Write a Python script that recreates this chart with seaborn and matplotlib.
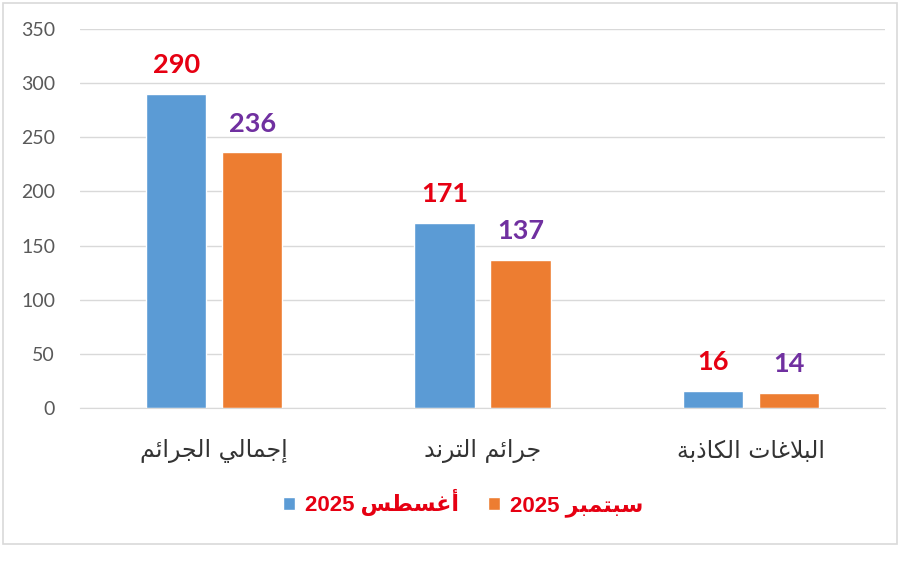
import matplotlib
matplotlib.use("Agg")
import matplotlib.pyplot as plt
import seaborn as sns
import pandas as pd
from matplotlib.patches import Rectangle

# data
categories = ["إجمالي الجرائم", "جرائم الترند", "البلاغات الكاذبة"]
months = ["أغسطس 2025", "سبتمبر 2025"]
august = [290, 171, 16]
september = [236, 137, 14]

bar_colors = ["#5B9BD5", "#ED7D31"]
label_colors = ["#E60012", "#7030A0"]

# matplotlib has no arabic shaping, so map letters to presentation forms by hand
FORMS = {
    "\u0627": ("\uFE8D", "\uFE8E", None, None),
    "\u0623": ("\uFE83", "\uFE84", None, None),
    "\u0625": ("\uFE87", "\uFE88", None, None),
    "\u0628": ("\uFE8F", "\uFE90", "\uFE91", "\uFE92"),
    "\u0629": ("\uFE93", "\uFE94", None, None),
    "\u062A": ("\uFE95", "\uFE96", "\uFE97", "\uFE98"),
    "\u062C": ("\uFE9D", "\uFE9E", "\uFE9F", "\uFEA0"),
    "\u062F": ("\uFEA9", "\uFEAA", None, None),
    "\u0630": ("\uFEAB", "\uFEAC", None, None),
    "\u0631": ("\uFEAD", "\uFEAE", None, None),
    "\u0633": ("\uFEB1", "\uFEB2", "\uFEB3", "\uFEB4"),
    "\u0637": ("\uFEC1", "\uFEC2", "\uFEC3", "\uFEC4"),
    "\u063A": ("\uFECD", "\uFECE", "\uFECF", "\uFED0"),
    "\u0643": ("\uFED9", "\uFEDA", "\uFEDB", "\uFEDC"),
    "\u0644": ("\uFEDD", "\uFEDE", "\uFEDF", "\uFEE0"),
    "\u0645": ("\uFEE1", "\uFEE2", "\uFEE3", "\uFEE4"),
    "\u0646": ("\uFEE5", "\uFEE6", "\uFEE7", "\uFEE8"),
    "\u064A": ("\uFEF1", "\uFEF2", "\uFEF3", "\uFEF4"),
    "\u0626": ("\uFE89", "\uFE8A", "\uFE8B", "\uFE8C"),
    "\uFEFB": ("\uFEFB", "\uFEFC", None, None),
    "\uFEF7": ("\uFEF7", "\uFEF8", None, None),
    "\uFEF9": ("\uFEF9", "\uFEFA", None, None),
}


def shape(word):
    word = (word.replace("\u0644\u0627", "\uFEFB")
                .replace("\u0644\u0623", "\uFEF7")
                .replace("\u0644\u0625", "\uFEF9"))
    out = []
    for i, ch in enumerate(word):
        if ch not in FORMS:
            out.append(ch)
            continue
        prev = word[i - 1] if i > 0 else ""
        nxt = word[i + 1] if i + 1 < len(word) else ""
        p = prev in FORMS and FORMS[prev][2] is not None
        n = nxt in FORMS and FORMS[ch][2] is not None
        iso, fin, ini, med = FORMS[ch]
        if p and n:
            out.append(med)
        elif p:
            out.append(fin)
        elif n:
            out.append(ini)
        else:
            out.append(iso)
    return "".join(out)


def visual(text):
    tokens = text.split(" ")
    tokens = [t if t.isdigit() else shape(t)[::-1] for t in tokens]
    return " ".join(tokens[::-1])


df = pd.DataFrame({
    "category": categories * 2,
    "month": [months[0]] * 3 + [months[1]] * 3,
    "value": august + september,
})

sns.set_style("white")
plt.rcParams["font.family"] = ["Lato", "DejaVu Sans"]

fig = plt.figure(figsize=(9.02, 5.83), dpi=100)
ax = fig.add_axes([80 / 902, 175 / 583, 805 / 902, 379 / 583])

sns.barplot(data=df, x="category", y="value", hue="month", order=categories,
            hue_order=months, palette=bar_colors, saturation=1,
            width=0.567, gap=0.21, legend=False, ax=ax)

for cont, col in zip(ax.containers, label_colors):
    ax.bar_label(cont, color=col, fontsize=19.5, fontweight="bold",
                 family="Lato", padding=12)

ax.set_ylim(0, 350)
ax.set_xlim(-0.5, 2.5)
ax.set_yticks(range(0, 351, 50))
ax.yaxis.grid(True, color="#D9D9D9", lw=1)
ax.set_axisbelow(True)
for s in ["left", "right", "top"]:
    ax.spines[s].set_visible(False)
ax.spines["bottom"].set_color("#D9D9D9")
ax.tick_params(axis="y", length=0, pad=18, labelsize=14, labelcolor="#595959")
ax.tick_params(axis="x", length=0, pad=22)
ax.set_xticks(range(len(categories)))
ax.set_xticklabels([visual(c) for c in categories], fontsize=17,
                   color="#333333", family="DejaVu Sans")
ax.set_xlabel("")
ax.set_ylabel("")

leg = fig.legend(handles=ax.containers, labels=[visual(m) for m in months],
                 loc="center", bbox_to_anchor=(463 / 902, 80 / 583), ncol=2,
                 frameon=False, handlelength=0.55, handleheight=0.55,
                 handletextpad=0.45, columnspacing=1.3,
                 prop={"family": ["Liberation Sans", "DejaVu Sans"],
                       "weight": "bold", "size": 16})
for t in leg.get_texts():
    t.set_color("#E60012")

fig.patches.append(Rectangle((3 / 902, 39 / 583), 894 / 902, 541 / 583,
                             transform=fig.transFigure, fill=False,
                             edgecolor="#D9D9D9", lw=1.2))

fig.savefig("out.png", dpi=100)
